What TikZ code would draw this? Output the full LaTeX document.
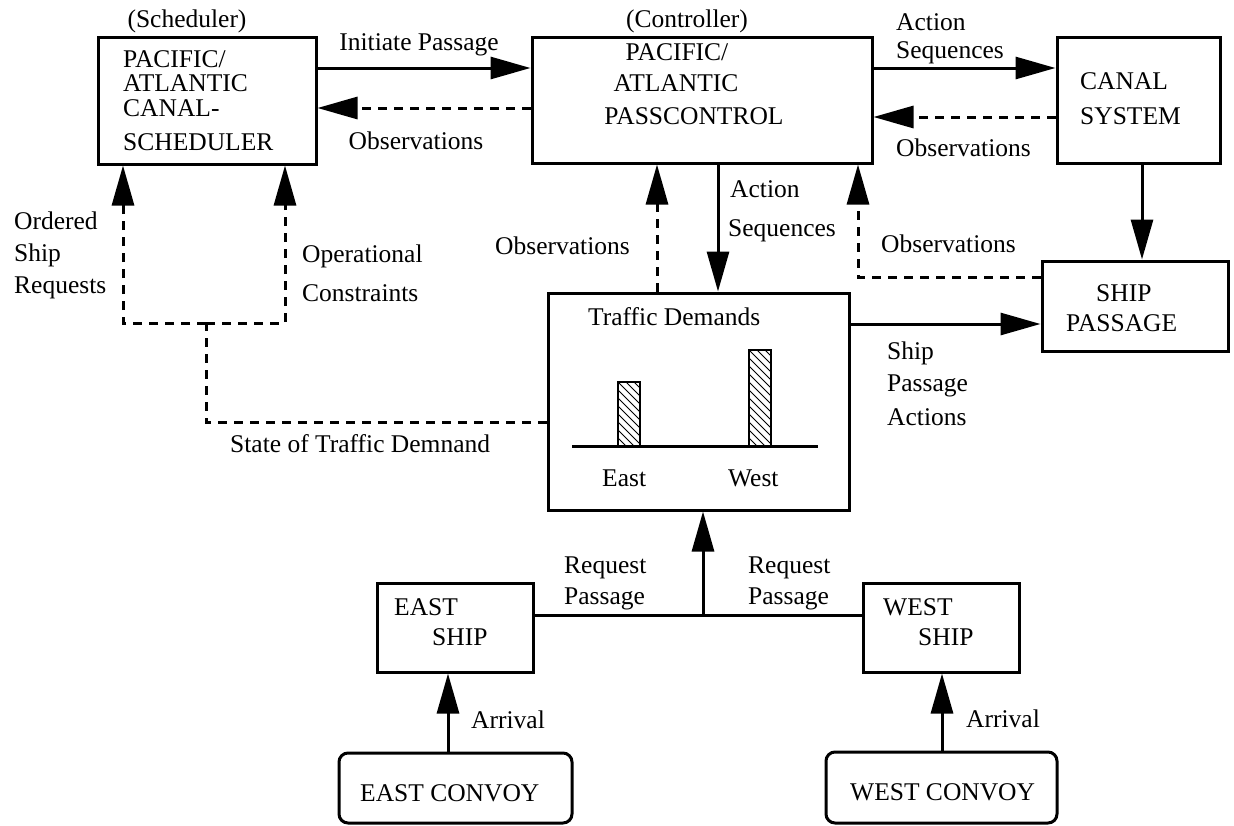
\documentclass[tikz,border=0pt]{standalone}
\usepackage{fontspec}
\setmainfont{Liberation Serif}
\usetikzlibrary{arrows.meta}
\begin{document}
\begin{tikzpicture}[x=1pt,y=-1pt,
  box/.style 2 args={draw, line width=3pt, inner sep=0pt, minimum width=#1, minimum height=#2},
  convoy/.style 2 args={box={#1}{#2}, rounded corners=9pt},
  txt/.style={inner sep=0pt, anchor=base west, font=\fontsize{25.5}{30}\selectfont},
  ctxt/.style={txt, anchor=base},
  sline/.style={line width=3pt},
  flow/.style={sline, -{Triangle[length=40pt,width=22pt]}},
  dline/.style={sline, dash pattern=on 9pt off 7pt},
  dflow/.style={flow, dash pattern=on 9pt off 7pt},
  bar/.style={draw, line width=2.5pt, inner sep=0pt, minimum width=22pt,
    path picture={\foreach \k in {-24,-16,...,104}{
      \draw[line width=0.9pt] ([yshift=-\k pt]path picture bounding box.north west) -- ++(40,40);}}}
]
\useasboundingbox (0,0) rectangle (1234,825);

% ---- boxes ----
\node[box={218}{127}] (sched)   at (207,100.5) {};
\node[box={340}{126}] (ctrl)    at (702,100) {};
\node[box={163}{126}] (canal)   at (1138.5,100) {};
\node[box={186}{90}]  (ship)    at (1135,306) {};
\node[box={301}{217}] (traffic) at (698.5,401.5) {};
\node[box={156}{89}]  (eship)   at (455,627.5) {};
\node[box={156}{89}]  (wship)   at (941,627.5) {};
\node[convoy={233}{70}] (econv) at (455.5,788) {};
\node[convoy={231}{71}] (wconv) at (941.5,787.5) {};

% ---- box texts ----
\node[ctxt] (schedrole) at (187,27) {(Scheduler)};
\node[txt] (sched1) at (123,67) {PACIFIC/};
\node[txt] (sched2) at (123,91) {ATLANTIC};
\node[txt] (sched3) at (123,116) {CANAL-};
\node[txt] (sched4) at (123,150) {SCHEDULER};

\node[ctxt] (ctrlrole) at (687,27) {(Controller)};
\node[ctxt] (ctrl1) at (677,60) {PACIFIC/};
\node[ctxt] (ctrl2) at (676,91) {ATLANTIC};
\node[ctxt] (ctrl3) at (694,124) {PASSCONTROL};

\node[txt] (canal1) at (1080,89) {CANAL};
\node[txt] (canal2) at (1080,124) {SYSTEM};

\node[txt] (ship1) at (1096,301) {SHIP};
\node[txt] (ship2) at (1066,331) {PASSAGE};

\node[txt] (eship1) at (394,615) {EAST};
\node[txt] (eship2) at (432,645) {SHIP};
\node[txt] (wship1) at (883,615) {WEST};
\node[txt] (wship2) at (918,645) {SHIP};

\node[txt] (econv1) at (360,801) {EAST CONVOY};
\node[txt] (wconv1) at (850,800) {WEST CONVOY};

% ---- traffic demand chart ----
\node[txt] (trafftitle) at (588,325) {Traffic Demands};
\draw[sline] (572,446) -- (818,446);
\node[bar, minimum height=64pt] (barE) at (629,414) {};
\node[bar, minimum height=96pt] (barW) at (760,398) {};
\node[txt] (eastlbl) at (602,486) {East};
\node[txt] (westlbl) at (728,486) {West};

% ---- levels used by the connectors ----
\coordinate (h68)  at (0,68);
\coordinate (h108) at (0,108);
\coordinate (h117) at (0,117);
\coordinate (h277) at (0,277);
\coordinate (h324) at (0,324);
\coordinate (h423) at (0,422);
\coordinate (h615) at (0,615);
\coordinate (v123) at (123,0);
\coordinate (v285) at (285,0);
\coordinate (v448) at (448,0);
\coordinate (v657) at (657,0);
\coordinate (v703) at (703,0);
\coordinate (v718) at (718,0);
\coordinate (v858) at (858,0);
\coordinate (v942) at (942,0);
\coordinate (v1142) at (1142,0);
\coordinate (split) at (206,323);
\coordinate (merge) at (703,615);

% ---- connectors ----
\draw[flow]  (sched.east |- h68) -- (ctrl.west |- h68);
\draw[dflow] (ctrl.west |- h108) -- (sched.east |- h108);
\draw[flow]  (ctrl.east |- h68) -- (canal.west |- h68);
\draw[dflow] (canal.west |- h117) -- (ctrl.east |- h117);
\draw[flow]  (canal.south -| v1142) -- (ship.north -| v1142);
\draw[dflow] (traffic.north -| v657) -- (ctrl.south -| v657);
\draw[flow]  (ctrl.south -| v718) -- (traffic.north -| v718);
\draw[dflow] (ship.west |- h277) -| (ctrl.south -| v858);
\draw[flow]  (traffic.east |- h324) -- (ship.west |- h324);
\draw[dline] (traffic.west |- h423) -| (split);
\draw[dflow] (split) -| (sched.south -| v123);
\draw[dflow] (split) -| (sched.south -| v285);
\draw[sline] (eship.east |- h615) -- (wship.west |- h615);
\draw[flow]  (merge) -- (traffic.south -| v703);
\draw[flow]  (econv.north -| v448) -- (eship.south -| v448);
\draw[flow]  (wconv.north -| v942) -- (wship.south -| v942);

% ---- connector labels ----
\node[ctxt] (lInit) at (419,50) {Initiate Passage};
\node[ctxt] (lObs1) at (416,149) {Observations};
\node[txt] (lAct1a) at (896,30) {Action};
\node[txt] (lAct1b) at (896,58) {Sequences};
\node[txt] (lObs2) at (896,156) {Observations};
\node[txt] (lObs3) at (495,254) {Observations};
\node[txt] (lAct2a) at (730,197) {Action};
\node[txt] (lAct2b) at (728,236) {Sequences};
\node[txt] (lObs4) at (881,252) {Observations};
\node[txt] (lOrd1) at (14,229) {Ordered};
\node[txt] (lOrd2) at (14,261) {Ship};
\node[txt] (lOrd3) at (14,293) {Requests};
\node[txt] (lOp1) at (302,262) {Operational};
\node[txt] (lOp2) at (302,301) {Constraints};
\node[txt] (lState) at (230,452) {State of Traffic Demnand};
\node[txt] (lSp1) at (887,359) {Ship};
\node[txt] (lSp2) at (887,391) {Passage};
\node[txt] (lSp3) at (887,425) {Actions};
\node[txt] (lReqE1) at (564,573) {Request};
\node[txt] (lReqE2) at (564,604) {Passage};
\node[txt] (lReqW1) at (748,573) {Request};
\node[txt] (lReqW2) at (748,604) {Passage};
\node[txt] (lArrE) at (471,728) {Arrival};
\node[txt] (lArrW) at (966,727) {Arrival};
\end{tikzpicture}
\end{document}
